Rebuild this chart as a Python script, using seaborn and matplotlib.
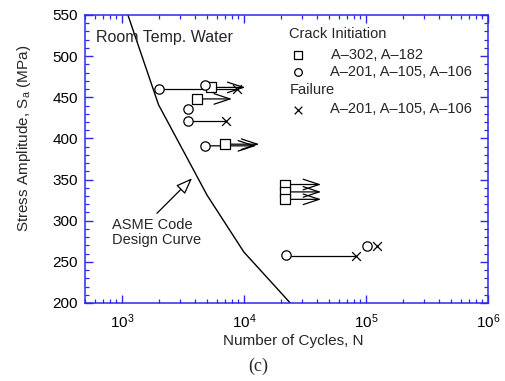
import matplotlib
matplotlib.use("Agg")
import matplotlib.pyplot as plt
import seaborn as sns
import pandas as pd
from matplotlib.ticker import LogLocator, MultipleLocator, NullFormatter, LogFormatterSciNotation

# ---------------- data ----------------
design_N = [1000, 2000, 5000, 10000, 24000]
design_S = [572, 441, 331, 262, 200]

square_N = [5400, 4100, 7000, 21700, 21700, 21700]
square_S = [462, 448, 393, 344, 335, 326]

circle_N = [2000, 4800, 3500, 3500, 4840, 22000, 103000]
circle_S = [460, 465, 436, 421, 391, 258, 269]

cross_N = [8800, 7100, 83000, 123000]
cross_S = [460, 421, 257, 269]

# initiation -> failure connectors
link_start_N = [2000, 3500, 22000]
link_end_N = [8800, 7100, 83000]
link_S = [460, 421, 257]

# run-out arrows
arrow_start_N = [5400, 4100, 4840, 7000, 21700, 21700, 21700]
arrow_end_N = [10300, 8000, 12600, 13400, 43000, 43000, 43000]
arrow_S = [462, 448, 391, 393, 344, 335, 326]

x_label = "Number of Cycles, N"
y_label = "Stress Amplitude, S$_\\mathregular{a}$ (MPa)"
legend_head1 = "Crack Initiation"
legend_sq = "A\u2013302, A\u2013182"
legend_ci = "A\u2013201, A\u2013105, A\u2013106"
legend_head2 = "Failure"
legend_x = "A\u2013201, A\u2013105, A\u2013106"

# ---------------- style ----------------
sns.set_style("ticks")
plt.rcParams["font.family"] = ["Liberation Sans", "DejaVu Sans"]
plt.rcParams["mathtext.fontset"] = "custom"
plt.rcParams["mathtext.rm"] = "Liberation Sans"
plt.rcParams["mathtext.it"] = "Liberation Sans:italic"
plt.rcParams["font.size"] = 11

AX_BLUE = "#2a2aee"

fig = plt.figure(figsize=(5.06, 3.81), dpi=100)
ax = fig.add_axes([85 / 506, 1 - 303 / 381, (488 - 85) / 506, (303 - 15) / 381])

# design curve
df_design = pd.DataFrame({"N": design_N, "S": design_S})
sns.lineplot(data=df_design, x="N", y="S", color="black", lw=1.0, ax=ax, sort=False)

# connectors
for a, b, s in zip(link_start_N, link_end_N, link_S):
    sns.lineplot(x=[a, b], y=[s, s], color="black", lw=0.9, ax=ax)

for a, b, s in zip(arrow_start_N, arrow_end_N, arrow_S):
    ax.annotate("", xy=(b, s), xytext=(a, s),
                arrowprops=dict(arrowstyle="->,head_length=1.15,head_width=0.38",
                                color="black", lw=0.9, shrinkA=0, shrinkB=0,
                                mutation_scale=10))

# markers
sns.scatterplot(x=square_N, y=square_S, marker="s", s=42, facecolor="white",
                edgecolor="black", linewidth=0.9, ax=ax, zorder=5)
sns.scatterplot(x=circle_N, y=circle_S, marker="o", s=45, facecolor="white",
                edgecolor="black", linewidth=0.9, ax=ax, zorder=5)
sns.scatterplot(x=cross_N, y=cross_S, marker="x", s=40, color="black",
                linewidth=0.9, ax=ax, zorder=5)

ax.set_xscale("log")
ax.set_xlim(500, 1e6)
ax.set_ylim(200, 550)
ax.set_xlabel("")
ax.set_ylabel("")

ax.xaxis.set_major_locator(LogLocator(base=10, numticks=10))
ax.xaxis.set_major_formatter(LogFormatterSciNotation())
ax.xaxis.set_minor_locator(LogLocator(base=10, subs=range(2, 10), numticks=20))
ax.xaxis.set_minor_formatter(NullFormatter())
ax.yaxis.set_major_locator(MultipleLocator(50))
ax.yaxis.set_minor_locator(MultipleLocator(10))

for sp in ax.spines.values():
    sp.set_visible(True)
    sp.set_color(AX_BLUE)
    sp.set_linewidth(1.1)

ax.tick_params(which="both", direction="in", top=True, right=True, color=AX_BLUE,
               labelcolor="black", labelsize=11)
ax.tick_params(which="major", length=5.5, width=1.0)
ax.tick_params(which="minor", length=3.0, width=0.9)
ax.tick_params(axis="x", which="major", pad=6.5)
ax.tick_params(axis="y", which="major", pad=5)

# annotations
ax.text(0.028, 0.922, "Room Temp. Water", transform=ax.transAxes,
        ha="left", va="center", fontsize=11.5)

ax.text(0.066, 0.245, "ASME Code\nDesign Curve", transform=ax.transAxes,
        ha="left", va="center", fontsize=10.5, linespacing=1.05)
ax.annotate("", xy=(3767, 351.6), xytext=(1941, 309),
            arrowprops=dict(arrowstyle="-|>,head_length=1.0,head_width=0.38",
                            fc="white", ec="black", lw=0.9, shrinkA=0, shrinkB=0,
                            mutation_scale=10))

# legend (manual)
tx = ax.transAxes
ax.text(0.507, 0.933, legend_head1, transform=tx, ha="left", va="center", fontsize=10.5)
ax.scatter([0.529], [0.861], marker="s", s=30, facecolor="white", edgecolor="black",
           linewidth=0.9, transform=tx, clip_on=False)
ax.text(0.610, 0.861, legend_sq, transform=tx, ha="left", va="center", fontsize=10.5)
ax.scatter([0.529], [0.803], marker="o", s=30, facecolor="white", edgecolor="black",
           linewidth=0.9, transform=tx, clip_on=False)
ax.text(0.608, 0.803, legend_ci, transform=tx, ha="left", va="center", fontsize=10.5)
ax.text(0.507, 0.740, legend_head2, transform=tx, ha="left", va="center", fontsize=10.5)
ax.scatter([0.529], [0.670], marker="x", s=30, color="black", linewidth=0.9,
           transform=tx, clip_on=False)
ax.text(0.608, 0.672, legend_x, transform=tx, ha="left", va="center", fontsize=10.5)

# axis labels
fig.text(293.5 / 506, 1 - 341 / 381, x_label, ha="center", va="center", fontsize=11)
fig.text(24.5 / 506, 1 - 138 / 381, y_label, ha="center", va="center",
         rotation=90, fontsize=11)
fig.text(258 / 506, 1 - 366 / 381, "(c)", ha="center", va="center", fontsize=13,
         family=["Liberation Serif", "DejaVu Serif"])

fig.savefig("out.png", dpi=100)
